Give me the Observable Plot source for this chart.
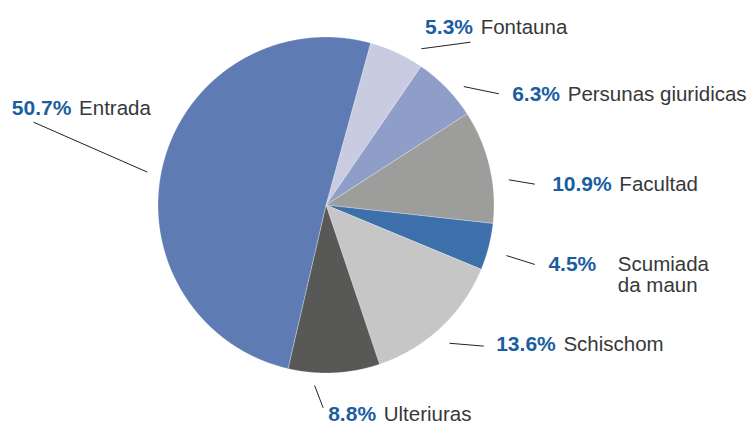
<!DOCTYPE html>
<html><head><meta charset="utf-8">
<script src="https://cdn.jsdelivr.net/npm/d3@7"></script>
<script src="https://cdn.jsdelivr.net/npm/@observablehq/plot@0.6"></script>
<style>
html,body{margin:0;padding:0;background:#fff}
svg{display:block}
</style>
</head><body><div id="chart"></div>
<script>
// ---- data ----
const categories = ["Fontauna", "Persunas giuridicas", "Facultad", "Scumiada da maun", "Schischom", "Ulteriuras", "Entrada"];
const shares = [5.3, 6.3, 10.9, 4.5, 13.6, 8.8, 50.7];
const pctLabels = ["5.3%", "6.3%", "10.9%", "4.5%", "13.6%", "8.8%", "50.7%"];

// ---- styles ----
const sliceColors = ["#c9cbe0", "#8f9dc9", "#9d9d9c", "#3d6fab", "#c6c6c6", "#585857", "#5f7bb3"];
const pctColor = "#1b5e9f";
const nameColor = "#383838";

// ---- layout (pie radius units, origin at pie centre, y up) ----
const W = 750, H = 424, R = 168, CX = 325.5, CY = 204.5;
const startDeg = 15.4;
// [leader x1, y1, x2, y2, label x, label baseline y, separate name x or null]
const labelLayout = [
  [0.568, 0.930, 0.860, 0.969, 0.590, 1.019, null],
  [0.820, 0.705, 1.029, 0.662, 1.108, 0.622, null],
  [1.088, 0.150, 1.243, 0.124, 1.346, 0.086, null],
  [1.074, -0.301, 1.243, -0.354, 1.324, -0.394, 1.737],
  [0.735, -0.823, 0.939, -0.840, 1.013, -0.872, null],
  [-0.068, -1.074, -0.017, -1.207, 0.013, -1.283, null],
  [-1.064, 0.196, -1.741, 0.493, -1.870, 0.536, null]
];

// ---- geometry from the data ----
const a0 = startDeg * Math.PI / 180;
const arcs = d3.pie().sort(null).value(d => d).startAngle(a0).endAngle(a0 + 2 * Math.PI)(shares);

const slicePoints = arcs.map((arc, i) => {
  const pts = [{x: 0, y: 0}];
  const n = Math.max(2, Math.ceil((arc.endAngle - arc.startAngle) / 0.005));
  for (let k = 0; k <= n; k++) {
    const a = arc.startAngle + (arc.endAngle - arc.startAngle) * k / n;
    pts.push({x: Math.sin(a), y: Math.cos(a)});
  }
  pts.push({x: 0, y: 0});
  return pts;
});

const leaders = labelLayout.map(([x1, y1, x2, y2]) => ({x1, y1, x2, y2}));
const labels = categories.map((c, i) => {
  const L = labelLayout[i];
  return {x: L[4], y: L[5], text: L[6] == null ? pctLabels[i] + "|" + c : pctLabels[i] + "|"};
});
const separateNames = categories.map((c, i) => ({c, L: labelLayout[i]}))
  .filter(d => d.L[6] != null)
  .map(d => ({x: d.L[6], y: d.L[5], text: d.c.replace(" da ", "\nda ")}));

const chart = Plot.plot({
  width: W,
  height: H,
  margin: 0,
  x: {domain: [-CX / R, (W - CX) / R], range: [0, W], axis: null},
  y: {domain: [-(H - CY) / R, CY / R], range: [H, 0], axis: null},
  style: {fontFamily: "'Liberation Sans', Arial, Helvetica, sans-serif", background: "#fff"},
  marks: [
    ...slicePoints.map((pts, i) => Plot.line(pts, {
      x: "x", y: "y", fill: sliceColors[i], stroke: "#ffffff", strokeWidth: 0.4, strokeOpacity: 0.7
    })),
    Plot.link(leaders, {x1: "x1", y1: "y1", x2: "x2", y2: "y2", stroke: "#222", strokeWidth: 1}),
    Plot.text(labels, {x: "x", y: "y", text: "text", textAnchor: "start", lineAnchor: "bottom", fontSize: 20.5, fill: nameColor}),
    Plot.text(separateNames, {x: "x", y: d => d.y, text: "text", textAnchor: "start", lineAnchor: "top", dy: -15, lineHeight: 1.03, fontSize: 20.5, fill: nameColor})
  ]
});

document.getElementById("chart").append(chart);

// split "pct|name" into styled tspans
d3.select(chart).selectAll("text").each(function() {
  const t = this.textContent;
  if (!t.includes("|")) return;
  const [p, n] = t.split("|");
  const el = d3.select(this);
  el.text(null);
  el.append("tspan").attr("fill", pctColor).attr("font-weight", "bold").attr("font-size", 21).text(p);
  if (n) el.append("tspan").attr("fill", nameColor).attr("dx", 2).text(" " + n);
});
</script>
</body></html>
